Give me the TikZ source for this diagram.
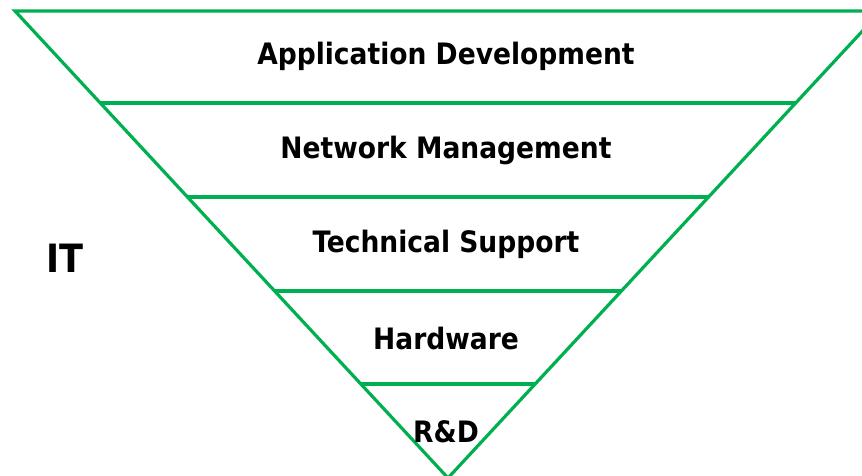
\documentclass[tikz,border=0pt]{standalone}
\usepackage{fontspec}
\setmainfont{DejaVu Sans Condensed}[BoldFont={DejaVu Sans Condensed Bold}]
\definecolor{layergreen}{RGB}{0,176,80}
\begin{document}
\begin{tikzpicture}[x=1pt,y=-1pt,
  edge/.style={draw=layergreen,line width=3.2pt},
  tier/.style={font=\bfseries\fontsize{29.5}{34}\selectfont,inner sep=0pt,anchor=center}]
\useasboundingbox (0,0) rectangle (862,475);
\clip (0,0) rectangle (862,475);
% outer inverted triangle
\coordinate (tl) at (15,11);
\coordinate (tr) at (881,11);
\coordinate (ap) at (448,478);
\draw[edge,line join=miter] (tl) -- (tr) -- (ap) -- cycle;
% dividing lines between tiers
\foreach \yy/\nm in {103/a,197/b,291/c,384/d}{
  \path (tl) -- (ap) coordinate[pos={(\yy-11)/467}] (l\nm);
  \path (tr) -- (ap) coordinate[pos={(\yy-11)/467}] (r\nm);
  \draw[edge] (l\nm) -- (r\nm);
}
% tier labels
\node[tier] (t1) at (446,56) {Application Development};
\node[tier] (t2) at (446,150) {Network Management};
\node[tier] (t3) at (446,244) {Technical Support};
\node[tier] (t4) at (446,338) {Hardware};
\node[tier] (t5) at (446,432) {R\&D};
\node[font=\bfseries\fontsize{39}{44}\selectfont,inner sep=0pt] (it) at (65,258) {IT};
\end{tikzpicture}
\end{document}
